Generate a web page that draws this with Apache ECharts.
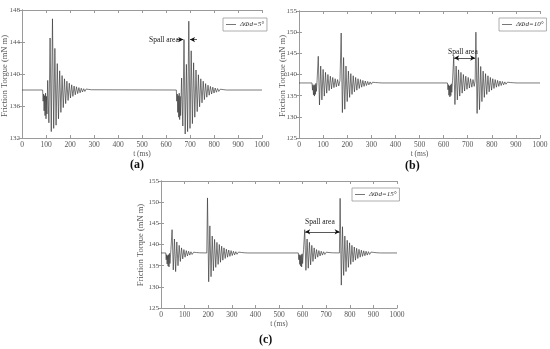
<!DOCTYPE html>
<html><head><meta charset="utf-8">
<script src="https://cdn.jsdelivr.net/npm/echarts@6/dist/echarts.min.js"></script>
<style>html,body{margin:0;padding:0;background:#fff}#c{width:550px;height:349px}</style>
</head><body><div id="c"></div>
<script>
// ---------- data (t in ms, friction torque in mN m) ----------
const xTickValues = [0,100,200,300,400,500,600,700,800,900,1000];
const yRangeA = [132, 148];
const yRangeBC = [125, 155];
const legendNames = ['ΔΦd=5°', 'ΔΦd=10°', 'ΔΦd=15°'];
const captions = ['(a)', '(b)', '(c)'];
const yNames = ['Friction Torgue (mN m)', 'Friction Torgue (mN m)', 'Friction Torque (mN m)'];
const xName = 't (ms)';
const spallText = 'Spall area';

const seriesA = [
[0,138],[86,138],
[88,136.6],[90,137.5],[92,135.4],[94,137.3],[96,134.8],[98,137.6],[100,134.4],[102,137.2],[104,135.0],[107,139.2],[112,133.9],[117,144.5],[122,132.8],[127,146.9],[132,133.2],[137,143.2],[142,133.6],[147,141.3],[152,134.4],[157,140.4],[162,135.2],[167,139.8],[172,135.8],[177,139.4],[182,136.3],[187,139.1],[192,136.7],[197,138.85],[202,137.0],[207,138.65],[212,137.2],[217,138.5],[222,137.4],[227,138.4],[232,137.55],[237,138.3],[242,137.65],[247,138.22],[252,137.75],[257,138.16],[262,137.82],[267,138.12],[272,137.88],[278,138.07],[284,137.94],[290,138.03],[297,138],
[643,138],
[645,136.6],[647,137.5],[649,135.2],[651,137.3],[653,134.6],[655,137.6],[657,134.3],[659,137.2],[661,134.8],[665,139.5],[670,133.5],[675,144.3],[680,132.5],[685,141.2],[690,132.8],[695,146.6],[700,133.2],[705,142.9],[710,133.8],[715,141.4],[720,134.6],[725,140.5],[730,135.3],[735,139.9],[740,135.9],[745,139.4],[750,136.4],[755,139.1],[760,136.8],[765,138.8],[770,137.1],[775,138.6],[780,137.35],[785,138.45],[790,137.5],[795,138.35],[800,137.62],[805,138.25],[810,137.72],[815,138.18],[820,137.82],[826,138.1],[832,137.9],[838,138.05],[845,137.96],[852,138],[1000,138]
];

const seriesB = [
[0,138],[54,138],
[56,136.3],[58,137.6],[60,135.2],[62,137.4],[64,134.9],[66,137.6],[68,135.3],[70,137.9],[72,136.0],[75,138.5],[80,144.3],[85,132.8],[90,142.0],[95,134.0],[100,141.2],[105,134.9],[110,140.5],[115,135.6],[120,140.0],[125,136.2],[130,139.6],[135,136.6],[140,139.3],[145,136.9],[150,139.0],[155,137.1],[160,138.8],[165,137.3],[170,138.6],
[175,149.8],[180,131.0],[185,144.0],[190,131.8],[195,142.0],[200,133.6],[205,140.8],[210,134.6],[215,140.2],[220,135.3],[225,139.7],[230,135.9],[235,139.3],[240,136.3],[245,139.0],[250,136.7],[255,138.8],[260,137.0],[265,138.6],[270,137.2],[275,138.45],[280,137.4],[285,138.35],[290,137.55],[295,138.25],[300,137.7],[305,138.18],[311,137.8],[317,138.1],[323,137.9],[330,138.05],[337,137.97],[345,138],
[616,138],
[618,136.4],[620,137.6],[622,135.1],[624,137.3],[626,134.7],[628,137.5],[630,135.0],[632,137.8],[634,135.8],[637,138.5],[642,144.3],[647,132.9],[652,142.0],[657,134.0],[662,141.1],[667,134.9],[672,140.5],[677,135.6],[682,140.0],[687,136.1],[692,139.6],[697,136.5],[702,139.3],[707,136.8],[712,139.0],[717,137.0],[722,138.8],[727,137.2],[731,138.6],
[734,150.0],[739,130.8],[744,144.0],[749,131.7],[754,141.9],[759,133.6],[764,140.8],[769,134.6],[774,140.2],[779,135.3],[784,139.7],[789,135.9],[794,139.3],[799,136.3],[804,139.0],[809,136.7],[814,138.8],[819,137.0],[824,138.6],[829,137.2],[834,138.45],[839,137.4],[844,138.35],[849,137.55],[854,138.25],[859,137.7],[865,138.18],[871,137.8],[877,138.1],[883,137.9],[890,138.05],[897,137.97],[905,138],[1000,138]
];

const seriesC = [
[0,138],[20,138],
[22,136.4],[24,137.6],[26,135.4],[28,137.4],[30,134.9],[32,137.6],[34,134.7],[36,137.9],[38,135.5],[42,138.8],[47,143.5],[52,134.0],[57,141.3],[62,133.6],[67,140.6],[72,135.0],[77,139.8],[82,136.0],[87,139.2],[92,136.6],[97,138.8],[102,137.0],[107,138.55],[112,137.3],[117,138.4],[122,137.5],[127,138.28],[132,137.65],[138,138.18],[144,137.8],[150,138.1],[157,137.92],[164,138.04],[172,138],[194,138],
[197,151.0],[202,131.2],[207,144.4],[212,132.4],[217,142.0],[222,133.8],[227,141.2],[232,134.6],[237,140.5],[242,135.3],[247,140.0],[252,135.8],[257,139.6],[262,136.3],[267,139.2],[272,136.7],[277,138.9],[282,137.0],[287,138.7],[292,137.2],[297,138.55],[302,137.4],[307,138.4],[312,137.55],[317,138.3],[322,137.7],[328,138.2],[334,137.8],[340,138.12],[346,137.9],[353,138.05],[360,137.97],[368,138],
[582,138],
[584,136.4],[586,137.6],[588,135.3],[590,137.4],[592,134.9],[594,137.6],[596,134.7],[598,137.8],[600,135.5],[604,138.8],[609,143.5],[614,133.9],[619,141.3],[624,134.4],[629,140.5],[634,135.2],[639,139.8],[644,136.0],[649,139.2],[654,136.6],[659,138.8],[664,137.0],[669,138.55],[674,137.3],[679,138.4],[684,137.5],[689,138.28],[694,137.65],[700,138.18],[706,137.8],[712,138.1],[719,137.92],[726,138.04],[734,138],[756,138],
[759,150.9],[764,130.4],[769,144.2],[774,132.7],[779,142.0],[784,133.6],[789,141.0],[794,134.6],[799,140.4],[804,135.3],[809,139.8],[814,135.9],[819,139.4],[824,136.3],[829,139.1],[834,136.7],[839,138.85],[844,137.0],[849,138.65],[854,137.2],[859,138.5],[864,137.35],[869,138.4],[874,137.5],[879,138.3],[884,137.65],[890,138.22],[896,137.78],[902,138.12],[908,137.9],[915,138.05],[922,137.97],[930,138],[1000,138]
];

// spall-area arrow endpoints [t1, t2, torque]
const spallA1 = [646, 672, 144.3];
const spallA2 = [729, 700, 144.3];
const spallB = [644, 731, 143.9];
const spallC = [611, 757, 143.0];

// ---------- chart ----------
const SERIF = "'Liberation Serif','DejaVu Serif',serif";
const AX = '#9a9a9a';
const LBL = '#555';
const LINE = '#333';
const gridBoxes = [
  {left:22, top:10, width:240, height:128},
  {left:299, top:11, width:241, height:127},
  {left:161, top:181, width:236, height:127}
];
const grids = gridBoxes.map(g => Object.assign({}, g, {containLabel:false, outerBoundsMode:'none', show:false}));

const yRanges = [yRangeA, yRangeBC, yRangeBC];
const yIntervals = [4, 5, 5];
const plainNum = v => String(v);

const xAxes = [], yAxes = [];
for (let i = 0; i < 3; i++) {
  xAxes.push({
    type:'value', gridIndex:i, position:'bottom', min:xTickValues[0], max:xTickValues[xTickValues.length-1], interval:100,
    axisLine:{show:true, lineStyle:{color:AX, width:1}},
    axisTick:{show:true, inside:true, length:3, lineStyle:{color:AX}},
    axisLabel:{fontFamily:SERIF, fontSize:7.5, color:LBL, margin:3, formatter:plainNum, hideOverlap:false},
    splitLine:{show:false},
    name:xName, nameLocation:'middle', nameGap:12,
    nameTextStyle:{fontFamily:SERIF, fontSize:7.5, color:LBL}
  });
  xAxes.push({
    type:'value', gridIndex:i, position:'top', min:0, max:1000, interval:100,
    axisLine:{show:true, lineStyle:{color:AX, width:1}},
    axisTick:{show:true, inside:true, length:3, lineStyle:{color:AX}},
    axisLabel:{show:false}, splitLine:{show:false}
  });
  yAxes.push({
    type:'value', gridIndex:i, position:'left', min:yRanges[i][0], max:yRanges[i][1], interval:yIntervals[i],
    axisLine:{show:true, lineStyle:{color:AX, width:1}},
    axisTick:{show:true, inside:true, length:3, lineStyle:{color:AX}},
    axisLabel:{fontFamily:SERIF, fontSize:7, color:LBL, margin:2, formatter:plainNum, hideOverlap:false},
    splitLine:{show:false}
  });
  yAxes.push({
    type:'value', gridIndex:i, position:'right', min:yRanges[i][0], max:yRanges[i][1], interval:yIntervals[i],
    axisLine:{show:true, lineStyle:{color:AX, width:1}},
    axisTick:{show:true, inside:true, length:3, lineStyle:{color:AX}},
    axisLabel:{show:false}, splitLine:{show:false}
  });
}

function arrowLine(a, sym) {
  return [{coord:[a[0], a[2]], symbol:sym[0]}, {coord:[a[1], a[2]], symbol:sym[1]}];
}
const mlStyle = {color:'#111', width:0.7, type:'solid'};
function markLines(lines) {
  return {silent:true, symbolSize:[4,5], label:{show:false}, lineStyle:mlStyle, animation:false, data:lines};
}

const datas = [seriesA, seriesB, seriesC];
const marks = [
  markLines([arrowLine(spallA1, ['none','arrow']), arrowLine(spallA2, ['none','arrow'])]),
  markLines([arrowLine(spallB, ['arrow','arrow'])]),
  markLines([arrowLine(spallC, ['arrow','arrow'])])
];
const series = datas.map((d, i) => ({
  name:legendNames[i], type:'line', xAxisIndex:2*i, yAxisIndex:2*i, data:d,
  symbol:'none', showSymbol:false, smooth:false, animation:false,
  lineStyle:{color:LINE, width:0.65}, itemStyle:{color:LINE},
  markLine:marks[i]
}));

const legendPos = [{left:223, top:18}, {left:499, top:18}, {left:352, top:188}];
const legends = legendPos.map((p, i) => ({
  data:[legendNames[i]], left:p.left, top:p.top, orient:'vertical',
  icon:'rect', itemWidth:10, itemHeight:1, itemGap:2,
  itemStyle:{color:'#777'},
  padding:[3,3,3,3],
  borderColor:'#999', borderWidth:0.8, backgroundColor:'#fff',
  textStyle:{fontFamily:SERIF, fontSize:7, fontStyle:'italic', color:'#333', padding:[0,0,0,-1]},
  selectedMode:false
}));

// rotated y titles: x = left edge of the (rotated) text column, y = centre
const yNamePos = [[0.5, 76], [278.5, 76], [136, 245]];
const graphic = [
  {type:'text', left:149, top:36, style:{text:spallText, font:"7.5px "+SERIF, fill:'#222'}},
  {type:'text', left:448, top:48, style:{text:spallText, font:"7.5px "+SERIF, fill:'#222'}},
  {type:'text', left:305, top:218, style:{text:spallText, font:"7.5px "+SERIF, fill:'#222'}},
  {type:'text', left:130, top:159, style:{text:captions[0], font:"bold 12px "+SERIF, fill:'#111'}},
  {type:'text', left:405, top:160, style:{text:captions[1], font:"bold 12px "+SERIF, fill:'#111'}},
  {type:'text', left:259, top:334, style:{text:captions[2], font:"bold 12px "+SERIF, fill:'#111'}}
].concat(yNamePos.map((p, i) => ({
  type:'text', x:p[0], y:p[1], rotation:Math.PI/2,
  style:{text:yNames[i], font:"8.5px "+SERIF, fill:LBL, align:'center', verticalAlign:'top'}
})));

const chart = echarts.init(document.getElementById('c'), null, {renderer:'canvas'});
chart.setOption({
  animation:false,
  backgroundColor:'#fff',
  grid:grids, xAxis:xAxes, yAxis:yAxes, series:series, legend:legends, graphic:graphic
});
</script>
</body></html>
